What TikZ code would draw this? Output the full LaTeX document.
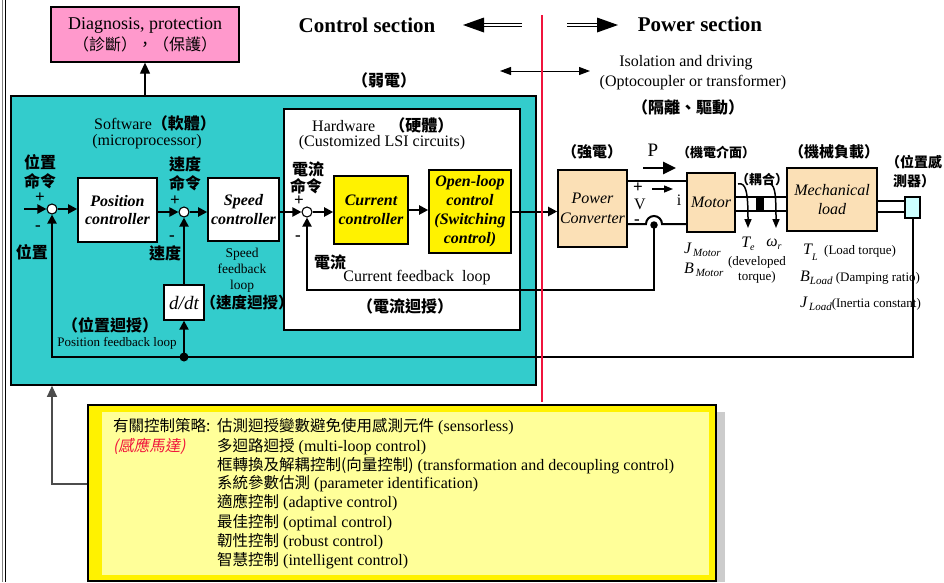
\documentclass[tikz,border=0pt]{standalone}
\usepackage{fontspec}
\setmainfont{Liberation Serif}
\newfontfamily\cjk{Noto Sans CJK TC}[AutoFakeSlant=0.2]
\usetikzlibrary{arrows.meta,calc}
\newcommand\tsz[2]{\fontsize{#1}{#2}\selectfont}
\newcommand\zh[1]{{\cjk #1}}
\newcommand\zhb[1]{{\cjk\bfseries #1}}
\newcommand\zhi[1]{{\cjk\tsz{15.5}{19}#1}}
\definecolor{cyanfill}{HTML}{33CCCC}
\definecolor{pinkfill}{HTML}{FF99CC}
\definecolor{wheatfill}{HTML}{FBE0B6}
\definecolor{sensfill}{HTML}{CCFFFF}
\definecolor{divider}{HTML}{F0143C}
\definecolor{paleyel}{HTML}{FFFF99}
\definecolor{shadowgray}{HTML}{CCCCCC}
\tikzset{
  wire/.style={line width=2pt},
  arr/.style={wire,-{Triangle[length=9pt,width=9pt]}},
  blk/.style={draw,line width=1.6pt,fill=white,align=center,inner sep=0pt,font={\bfseries\itshape\tsz{16}{18.5}}},
  sumj/.style={circle,draw,line width=1.1pt,fill=white,minimum size=10pt,inner sep=0pt},
  jdot/.style={circle,fill,minimum size=9pt,inner sep=0pt},
  zlab/.style={font={\cjk\bfseries\tsz{16}{18}},inner sep=0pt},
  sgn/.style={font={\bfseries\tsz{17}{17}},inner sep=0pt},
  txtnote/.style={font={\tsz{16}{19}},inner sep=0pt,align=center},
  txtsmall/.style={font={\tsz{13}{15}},inner sep=0pt,align=center},
  txthead/.style={font={\bfseries\tsz{21}{24}},inner sep=0pt},
  txtitem/.style={anchor=west,inner sep=0pt,font={\tsz{16}{19}},text height=12pt,text depth=4pt},
}
\begin{document}
\begin{tikzpicture}[x=1pt,y=-1pt]
\useasboundingbox (0,0) rectangle (944,582);
\fill[white] (0,0) rectangle (944,582);

% page border on the left
\draw[gray,line width=0.8pt] (2.5,0) -- (2.5,582);
\draw[line width=1.6pt] (5.5,0) -- (5.5,582);

% diagnosis block
\node[draw,line width=1.3pt,fill=pinkfill,minimum width=188,minimum height=55,inner sep=0pt,align=center,font={\tsz{18}{22}}]
  (diag) at (145,34.5) {Diagnosis, protection\\[-1pt]{\cjk\tsz{16}{18}（診斷），（保護）}};

% software area and hardware area
\node[draw,line width=1.6pt,fill=cyanfill,minimum width=525,minimum height=289,inner sep=0pt] (soft) at (273.5,240.5) {};
\node[draw,line width=1.3pt,fill=white,minimum width=236,minimum height=221,inner sep=0pt] (hw) at (402,219.5) {};
\draw[line width=1.2pt,-{Triangle[length=11pt,width=10pt]}] (soft.north -| diag) -- (diag.south);

\node[txtnote] (swlab) at (155,123) {Software\zhb{（軟體）}};
\node[txtnote] (mplab) at (147,142) {(microprocessor)};
\node[txtnote,anchor=west] (hwlab) at (312,125) {Hardware\hspace{14pt}\zhb{（硬體）}};
\node[txtnote] (lsilab) at (382,143) {(Customized LSI circuits)};

% control loop blocks
\node[sumj] (sum1) at (52,209) {};
\node[blk,minimum width=79,minimum height=64] (pos) at (117.5,210) {Position\\controller};
\node[sumj] (sum2) at (184,212) {};
\node[blk,minimum width=71,minimum height=63] (spd) at (243.5,209.5) {Speed\\controller};
\node[draw,line width=1.3pt,fill=white,minimum width=40,minimum height=35,inner sep=0pt,font={\itshape\tsz{19}{21}}] (ddt) at (184,302.5) {d/dt};
\node[sumj] (sum3) at (307,212) {};
\node[blk,fill=yellow,minimum width=74,minimum height=68] (cur) at (371,210) {Current\\controller};
\node[blk,fill=yellow,minimum width=82,minimum height=83,font={\bfseries\itshape\tsz{16}{19}}] (opl) at (470,211.5) {Open-loop\\control\\(Switching\\control)};

% power stage blocks
\node[blk,fill=wheatfill,minimum width=69,minimum height=77,font={\itshape\tsz{16}{20}}] (pc) at (592.5,208.5) {Power\\Converter};
\node[blk,fill=wheatfill,minimum width=48,minimum height=59,font={\itshape\tsz{16}{18}}] (motor) at (711,202.5) {Motor};
\node[blk,fill=wheatfill,minimum width=90,minimum height=63,font={\itshape\tsz{16}{19}}] (mech) at (832,199.5) {Mechanical\\load};
\node[draw,line width=1.6pt,fill=sensfill,minimum width=15,minimum height=21,inner sep=0pt] (sens) at (912.5,207.5) {};

% forward path
\coordinate (in1) at (24,209);
\draw[arr] (in1) -- (sum1.west);
\draw[arr] (sum1.east) -- (sum1.east -| pos.west);
\draw[arr] (pos.east |- sum2) -- (sum2.west);
\draw[arr] (sum2.east) -- (sum2.east -| spd.west);
\draw[arr] (spd.east |- sum3) -- (sum3.west);
\draw[arr] (sum3.east) -- (sum3.east -| cur.west);
\draw[arr] (cur.east) -- (cur.east -| opl.west);
\draw[arr] (opl.east) -- (opl.east -| pc.west);

% converter to motor wiring with the current pick-off
\draw[wire] (pc.east |- 0,181) -- (motor.west |- 0,181);
\draw[wire] (pc.east |- 0,224) -- (646,224) arc[start angle=180,end angle=360,radius=8] -- (motor.west |- 0,224);
\node[jdot,minimum size=7.5pt] (hall) at (654,225) {};

% shafts and coupling
\draw[wire] (motor.east |- 0,197) -- (mech.west |- 0,197);
\draw[wire] (motor.east |- 0,211) -- (mech.west |- 0,211);
\node[fill,minimum width=8,minimum height=15,inner sep=0pt] (coup) at (760,204) {};
\draw[wire] (mech.east |- 0,201) -- (sens.west |- 0,201);
\draw[wire] (mech.east |- 0,212) -- (sens.west |- 0,212);
\draw[line width=1.5pt,-{Triangle[length=9pt,width=7pt]}] (738,184) .. controls (746,182) and (748,192) .. (748,228);
\draw[line width=1.5pt,-{Triangle[length=9pt,width=7pt]}] (767,184) .. controls (775,182) and (776,192) .. (776,228);

% current feedback loop
\coordinate (cfb) at (sum3 |- 0,290);
\draw[arr] (hall.center) -- (hall |- cfb) -- (cfb) -- (sum3.south);

% position and speed feedback loops
\coordinate (pfb) at (sum1 |- 0,357);
\node[jdot] (sdot) at (sum2 |- pfb) {};
\draw[arr] (sens.south) -- (sens.south |- pfb) -- (pfb) -- (sum1.south);
\draw[arr] (sdot.center) -- (ddt.south);
\draw[arr] (ddt.north) -- (sum2.south);

% loop labels
\node[zlab] (l1a) at (40,162) {位置};
\node[zlab] (l1b) at (40,181) {命令};
\node[sgn] (p1) at (40,198) {+};
\node[sgn] (m1) at (38,228) {-};
\node[zlab] (l1c) at (32,252) {位置};
\node[zlab] (l2a) at (185,164) {速度};
\node[zlab] (l2b) at (185,183) {命令};
\node[sgn] (p2) at (175,201) {+};
\node[sgn] (m2) at (172,238) {-};
\node[zlab] (l2c) at (165,253) {速度};
\node[zlab] (l3a) at (308,169) {電流};
\node[zlab] (l3b) at (306,186) {命令};
\node[sgn] (p3) at (299,201) {+};
\node[sgn] (m3) at (298,238) {-};
\node[zlab] (l3c) at (330,262) {電流};

\node[zlab] (pfbz) at (110,325) {（位置迴授）};
\node[txtsmall] (pfbe) at (117,343) {Position feedback loop};
\node[txtsmall,font={\tsz{13.5}{16}}] (sfbe) at (242,270) {Speed\\feedback\\loop};
\node[zlab,font={\cjk\bfseries\tsz{15.5}{18}}] (sfbz) at (247,303) {（速度迴授）};
\node[txtnote] (cfbe) at (417,278) {Current feedback\ \ loop};
\node[zlab] (cfbz) at (405,306) {（電流迴授）};

% section headings and divider
\node[txthead] (ctrlsec) at (367,25) {Control section};
\node[txthead] (powsec) at (700,24) {Power section};
\draw[double,double distance=2.4pt,line width=0.9pt] (483,25) -- (522,25);
\fill (463,25) -- (484,17.5) -- (484,32.5) -- cycle;
\draw[double,double distance=2.4pt,line width=0.9pt] (567,25) -- (598,25);
\fill (618,25) -- (597,17.5) -- (597,32.5) -- cycle;

\node[zlab] (weak) at (384,80) {（弱電）};
\coordinate (isoL) at (500,71);
\coordinate (isoR) at (590,71);
\draw[line width=1pt,{Triangle[length=11pt,width=8pt]}-{Triangle[length=11pt,width=8pt]}] (isoL) -- (isoR);
\node[txtnote] (iso1) at (686,63) {Isolation and driving};
\node[txtnote] (iso2) at (693,83) {(Optocoupler or transformer)};
\node[zlab] (iso3) at (688,107) {（隔離、驅動）};

% power side labels
\node[zlab,font={\cjk\bfseries\tsz{15}{17}}] (strong) at (592,152) {（強電）};
\node[inner sep=0pt,font={\tsz{19}{20}}] (plab) at (653,150) {P};
\coordinate (pa) at (643,168);
\coordinate (pb) at (676,168);
\draw[line width=2.6pt,-{Triangle[length=13pt,width=12pt]}] (pa) -- (pb);
\node[zlab,font={\cjk\bfseries\tsz{13}{15}}] (emi) at (716,152) {（機電介面）};
\node[zlab,font={\cjk\bfseries\tsz{15}{17}}] (mload) at (834,152) {（機械負載）};
\node[zlab,font={\cjk\bfseries\tsz{14}{19}},align=center] (psens) at (914,172) {（位置感\\測器）};
\node[zlab,font={\cjk\bfseries\tsz{13}{15}}] (couple) at (762,180) {（耦合）};
\node[sgn] (vp) at (638,188) {+};
\node[inner sep=0pt,font={\tsz{16}{16}}] (vlab) at (640,204) {V};
\node[sgn] (vm) at (637,222) {-};
\coordinate (ia) at (652,189);
\coordinate (ib) at (673,189);
\draw[line width=1.4pt,-{Triangle[length=9pt,width=7pt]}] (ia) -- (ib);
\node[inner sep=0pt,font={\tsz{16}{16}}] (ilab) at (679,200) {i};

\node[inner sep=0pt,anchor=west,font={\itshape\tsz{16}{16}}] (jm) at (684,250) {J\raisebox{-3pt}{\tsz{11}{12}\,Motor}};
\node[inner sep=0pt,anchor=west,font={\itshape\tsz{16}{16}}] (bm) at (684,270) {B\raisebox{-3pt}{\tsz{11}{12}\,Motor}};
\node[inner sep=0pt,font={\itshape\tsz{16}{16}}] (te) at (748,244) {T\raisebox{-3pt}{\tsz{10}{11}e}};
\node[inner sep=0pt,font={\itshape\tsz{16}{16}}] (wr) at (774,244) {ω\raisebox{-3pt}{\tsz{10}{11}r}};
\node[txtsmall,font={\tsz{13}{14.5}}] (devt) at (757,270) {(developed\\torque)};
\node[inner sep=0pt,anchor=west,font={\tsz{13}{15}}] (tl) at (803,252) {{\itshape\tsz{16}{16}T\raisebox{-6pt}{\tsz{10}{11}L}}\ \ (Load torque)};
\node[inner sep=0pt,anchor=west,font={\tsz{13}{15}}] (bl) at (800,278) {{\itshape\tsz{16}{16}B\raisebox{-3pt}{\tsz{11}{12}Load}} (Damping ratio)};
\node[inner sep=0pt,anchor=west,font={\tsz{13}{15}}] (jl) at (800,304) {{\itshape\tsz{16}{16}J\raisebox{-3pt}{\tsz{11}{12}\,Load}}(Inertia constant)};

% control strategies box
\fill[shadowgray] (716,412) rectangle (725,582);
\node[draw,line width=1.5pt,fill=yellow,minimum width=628,minimum height=176,inner sep=0pt] (ybox) at (402,493) {};
\fill[paleyel] (102,412) rectangle (709,575);
\draw[line width=1.1pt,draw=black!70,-{Triangle[length=11pt,width=10pt]}] (ybox.west |- 0,484) -- (sum1 |- 0,484) -- (sum1 |- soft.south);

\node[txtitem] (s0) at (113,427) {\zhi{有關控制策略:}};
\node[txtitem,text=divider] (s0r) at (113,447) {{\cjk\itshape\tsz{15.5}{19}(感應馬達)}};
\node[txtitem] (s1) at (217,427) {\zhi{估測迴授變數避免使用感測元件} (sensorless)};
\node[txtitem] (s2) at (217,447) {\zhi{多迴路迴授} (multi-loop control)};
\node[txtitem] (s3) at (217,466) {\zhi{框轉換及解耦控制(向量控制)} (transformation and decoupling control)};
\node[txtitem] (s4) at (217,484) {\zhi{系統參數估測} (parameter identification)};
\node[txtitem] (s5) at (217,503) {\zhi{適應控制} (adaptive control)};
\node[txtitem] (s6) at (217,523) {\zhi{最佳控制} (optimal control)};
\node[txtitem] (s7) at (217,542) {\zhi{韌性控制} (robust control)};
\node[txtitem] (s8) at (217,561) {\zhi{智慧控制} (intelligent control)};

% control/power divider drawn last
\coordinate (divT) at (542,15);
\coordinate (divB) at (542,402);
\draw[divider,line width=1.8pt] (divT) -- (divB);
\end{tikzpicture}
\end{document}
